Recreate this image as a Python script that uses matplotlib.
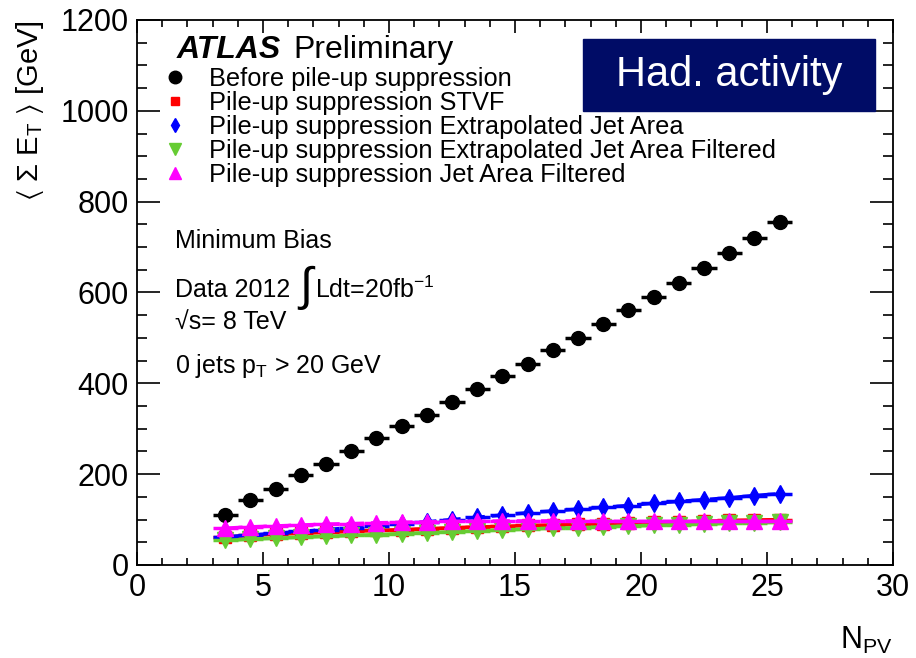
import numpy as np
import matplotlib
matplotlib.use("Agg")
import matplotlib.pyplot as plt
from matplotlib.lines import Line2D
from matplotlib.patches import Rectangle
from matplotlib.ticker import MultipleLocator

plt.rcParams['font.family'] = ['Liberation Sans', 'DejaVu Sans']
plt.rcParams['mathtext.fontset'] = 'custom'
plt.rcParams['mathtext.rm'] = 'Liberation Sans'
plt.rcParams['mathtext.it'] = 'Liberation Sans:italic'
plt.rcParams['mathtext.bf'] = 'Liberation Sans:bold'
plt.rcParams['mathtext.default'] = 'regular'

# number of primary vertices (bin centres)
npv = np.arange(3.5, 26.0, 1.0)

# <sum E_T> [GeV]
before = [110, 143, 167, 198, 222, 251, 280, 306, 330, 359, 388, 416,
          443, 474, 500, 531, 562, 590, 622, 654, 687, 720, 755]
stvf = [62, 65, 68, 70, 72, 74, 76, 78, 80, 82, 84, 85,
        87, 88, 90, 91, 93, 94, 95, 96, 98, 99, 100]
extrap_area = [62, 66, 70, 74, 78, 82, 86, 90, 95, 100, 105, 110,
               115, 119, 123, 127, 131, 136, 140, 144, 148, 153, 157]
extrap_area_filt = [54, 57, 59, 61, 63, 65, 67, 69, 71, 73, 75, 77,
                    79, 81, 82, 84, 86, 87, 89, 90, 92, 93, 94]
area_filt = [81, 84, 86, 88, 90, 91, 93, 94, 95, 96, 96, 97,
             97, 97, 97, 96, 96, 96, 96, 96, 96, 96, 96]

labels = ["Before pile-up suppression",
          "Pile-up suppression STVF",
          "Pile-up suppression Extrapolated Jet Area",
          "Pile-up suppression Extrapolated Jet Area Filtered",
          "Pile-up suppression Jet Area Filtered"]

W, H = 916, 658
fig = plt.figure(figsize=(W / 100, H / 100), dpi=100)
ax = fig.add_axes([137 / W, 1 - 565 / H, (893 - 137) / W, (565 - 20) / H])

green = '#66cc33'
# black: points with horizontal bin bars only
ax.errorbar(npv, before, xerr=0.5, fmt='o', color='k', ms=10, elinewidth=2.5,
            capsize=0, zorder=3)
# coloured series: markers, bin bars and connecting line
series = [
    (stvf, 'red', 's', 8, '-'),
    (extrap_area, 'blue', 'd', 9, (0, (5, 2))),
    (extrap_area_filt, green, 'v', 11, '-'),
    (area_filt, 'magenta', '^', 11, (0, (5, 2))),
]
handles = [Line2D([], [], ls='none', marker='o', color='k', ms=9)]
for i, (vals, col, mk, ms, ls) in enumerate(series):
    ax.plot(npv, vals, color=col, lw=2.5, ls=ls, zorder=4 + i)
    ax.errorbar(npv, vals, xerr=0.5, fmt=mk, color=col, ms=ms, elinewidth=2.5,
                capsize=0, zorder=4 + i)
    handles.append(Line2D([], [], ls='none', marker=mk, color=col, ms=ms * 0.8))

ax.set_xlim(0, 30)
ax.set_ylim(0, 1200)
ax.xaxis.set_major_locator(MultipleLocator(5))
ax.xaxis.set_minor_locator(MultipleLocator(1))
ax.yaxis.set_major_locator(MultipleLocator(200))
ax.yaxis.set_minor_locator(MultipleLocator(50))
ax.tick_params(which='both', direction='in', top=True, right=True, width=1.2,
               labelsize=22)
ax.tick_params(axis='x', which='major', length=9.5, pad=6)
ax.tick_params(axis='x', which='minor', length=5)
ax.tick_params(axis='y', which='major', length=16.5, pad=6)
ax.tick_params(axis='y', which='minor', length=7.5)
for s in ax.spines.values():
    s.set_linewidth(1.3)

fig.text(30 / W, 1 - 20 / H, r'$\langle\ \Sigma\ E_{T}\ \rangle$ [GeV]',
         rotation=90, ha='center', va='top', fontsize=21)
fig.text(893 / W, 1 - 640 / H, r'N$_{PV}$', ha='right', va='center', fontsize=22)

ax.legend(handles, labels, loc='upper left', bbox_to_anchor=(162 / W, 1 - 67 / H),
          bbox_transform=fig.transFigure, frameon=False, fontsize=18.3,
          handlelength=1.0, handletextpad=0.84, borderpad=0, borderaxespad=0,
          labelspacing=0.0)

fig.text(177 / W, 1 - 50 / H, 'ATLAS', fontsize=23, weight='bold', style='italic',
         va='center')
fig.text(293 / W, 1 - 50 / H, 'Preliminary', fontsize=23, va='center')

fig.patches.append(Rectangle((583 / W, 1 - 111 / H), (875 - 583) / W, 72 / H,
                             transform=fig.transFigure, color='#000c66'))
fig.text(729 / W, 1 - 75 / H, 'Had. activity', color='white', fontsize=30,
         ha='center', va='center')

fig.text(175 / W, 1 - 241 / H, 'Minimum Bias', fontsize=18, va='center')
fig.text(175 / W, 1 - 290 / H, 'Data 2012', fontsize=18, va='center')
fig.text(297 / W, 1 - 287 / H, r'$\int$', fontsize=34, va='center')
fig.text(315 / W, 1 - 290 / H, r'Ldt=20fb$^{-1}$', fontsize=18, va='center')
fig.text(175 / W, 1 - 322 / H, '√s= 8 TeV', fontsize=18, va='center')
fig.text(175 / W, 1 - 366 / H, r'0 jets p$_{T}$ > 20 GeV', fontsize=18, va='center')

fig.savefig('out.png', dpi=100)
